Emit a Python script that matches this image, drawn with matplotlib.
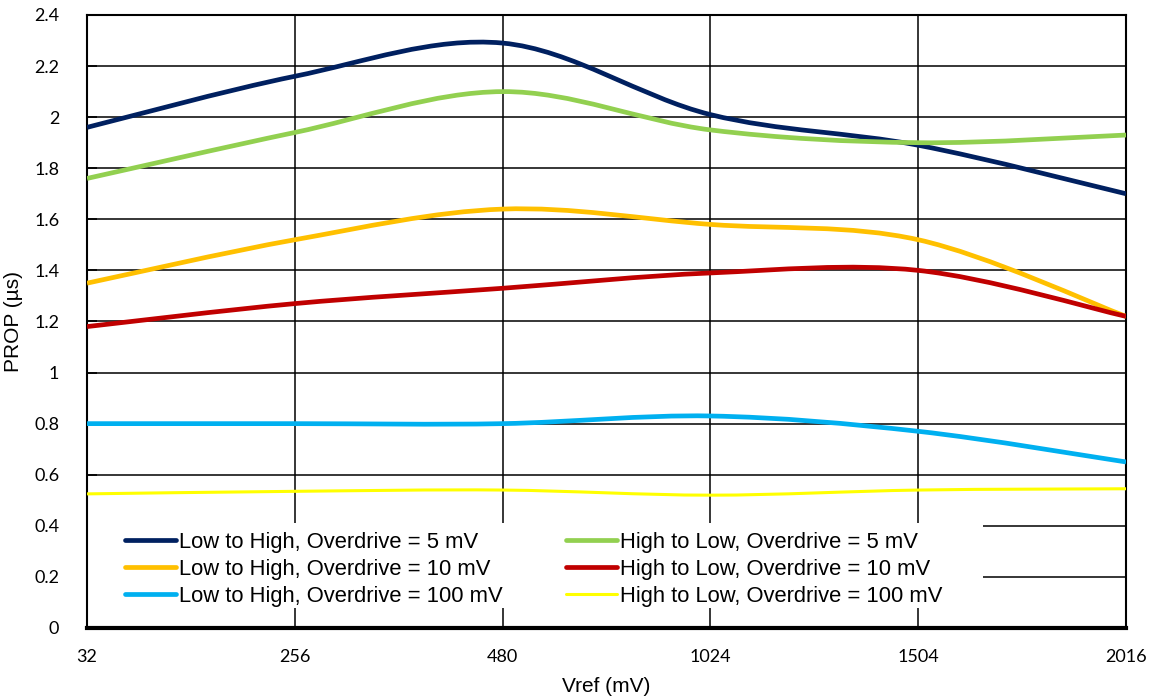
# PROP vs Vref, curve smussate stile Excel
import numpy as np
import matplotlib.pyplot as plt
from matplotlib.path import Path
from matplotlib.patches import PathPatch, Rectangle
from matplotlib.lines import Line2D

plt.rcParams['font.family'] = ['Liberation Sans', 'DejaVu Sans']

# Dati
vref = ["32", "256", "480", "1024", "1504", "2016"]
lh_5 = [1.96, 2.16, 2.29, 2.01, 1.89, 1.70]
hl_5 = [1.76, 1.94, 2.10, 1.95, 1.90, 1.93]
lh_10 = [1.35, 1.52, 1.64, 1.58, 1.52, 1.22]
hl_10 = [1.18, 1.27, 1.33, 1.39, 1.40, 1.22]
lh_100 = [0.80, 0.80, 0.80, 0.83, 0.77, 0.65]
hl_100 = [0.525, 0.535, 0.54, 0.52, 0.54, 0.545]

# ordine = ordine della legenda (colonna per colonna)
series = [
    ("Low to High, Overdrive = 5 mV", lh_5, "#002060", 3.4),
    ("Low to High, Overdrive = 10 mV", lh_10, "#FFC000", 3.4),
    ("Low to High, Overdrive = 100 mV", lh_100, "#00B0F0", 3.4),
    ("High to Low, Overdrive = 5 mV", hl_5, "#92D050", 3.4),
    ("High to Low, Overdrive = 10 mV", hl_10, "#C00000", 3.4),
    ("High to Low, Overdrive = 100 mV", hl_100, "#FFFF00", 2.2),
]

# Curva di Bezier che passa per i punti (come la linea smussata di Excel)
def smooth_path(x, y):
    p = np.column_stack([x, y]).astype(float)
    n = len(p)
    verts = [p[0]]
    codes = [Path.MOVETO]
    for i in range(n - 1):
        p0 = p[max(i - 1, 0)]
        p1 = p[i]
        p2 = p[i + 1]
        p3 = p[min(i + 2, n - 1)]
        c1 = p1 + (p2 - p0) / 6
        c2 = p2 - (p3 - p1) / 6
        verts += [c1, c2, p2]
        codes += [Path.CURVE4] * 3
    return Path(verts, codes)

fig = plt.figure(figsize=(11.53, 7.0), dpi=100)
ax = fig.add_axes([0.0755, 0.1029, 0.9011, 0.8757])

x = np.arange(len(vref))
handles = []
for label, vals, col, lw in series:
    patch = PathPatch(smooth_path(x, vals), facecolor="none", edgecolor=col,
                      lw=lw, capstyle="butt", zorder=3)
    ax.add_patch(patch)
    handles.append(Line2D([], [], color=col, lw=lw, solid_capstyle="round", label=label))

ax.set_xlim(0, len(vref) - 1)
ax.set_ylim(0, 2.4)
ax.set_xticks(x)
ax.set_xticklabels(vref, family="Lato")
yt = np.arange(0, 2.41, 0.2)
ax.set_yticks(yt)
ax.set_yticklabels(["%g" % round(v, 1) for v in yt], family="Lato")

ax.grid(True, color="black", lw=1.1)
ax.set_axisbelow(True)
for s in ax.spines.values():
    s.set_color("black")
    s.set_linewidth(1.5)
ax.spines["bottom"].set_linewidth(3.0)

ax.tick_params(axis="x", length=0, pad=15, labelsize=13)
ax.tick_params(axis="y", direction="in", length=7, width=1.2, pad=20, labelsize=13)

ax.set_xlabel("Vref (mV)", fontsize=15, labelpad=9)
ax.set_ylabel("PROP (µs)", fontsize=15, labelpad=8)

# sfondo bianco della legenda
ax.add_patch(Rectangle((0.0, 0.0326), 0.862, 0.138, transform=ax.transAxes,
                       facecolor="white", edgecolor="none", zorder=1))

leg = ax.legend(handles=handles, ncol=2, loc="upper left",
                bbox_to_anchor=(0.0366, 0.1566), frameon=False,
                fontsize=15.8, handlelength=2.3, handletextpad=0.15,
                labelspacing=0.27, borderpad=0, borderaxespad=0, columnspacing=2.9)
leg.set_zorder(5)

plt.savefig("out.png", dpi=100)
